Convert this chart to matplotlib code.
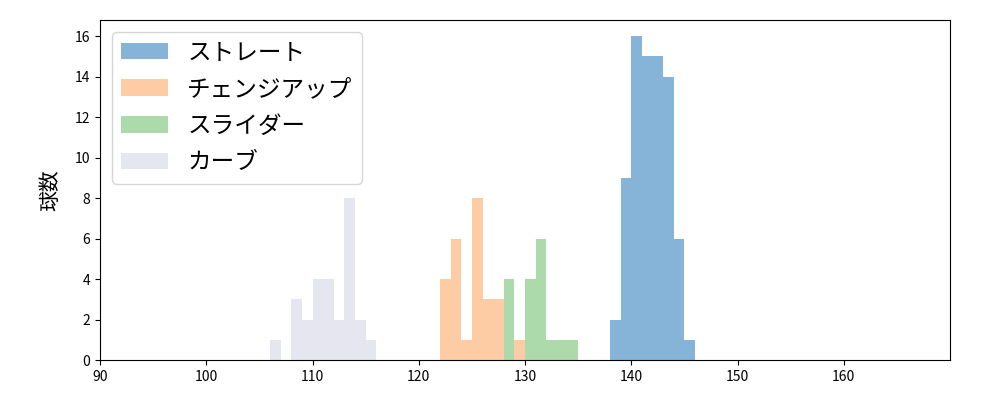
import matplotlib
matplotlib.use("Agg")
import matplotlib.pyplot as plt
import numpy as np

plt.rcParams['font.family'] = ['Noto Sans CJK JP', 'DejaVu Sans']

labels = ["ストレート", "チェンジアップ", "スライダー", "カーブ"]
colors = ["#86b4d8", "#fdcca5", "#acdaab", "#e6e6f0"]

straight_bins = [138, 139, 140, 141, 142, 143, 144, 145]
straight_counts = [2, 9, 16, 15, 15, 14, 6, 1]

changeup_bins = [122, 123, 124, 125, 126, 127, 129]
changeup_counts = [4, 6, 1, 8, 3, 3, 1]

slider_bins = [128, 130, 131, 132, 133, 134]
slider_counts = [4, 4, 6, 1, 1, 1]

curve_bins = [106, 108, 109, 110, 111, 112, 113, 114, 115]
curve_counts = [1, 3, 2, 4, 4, 2, 8, 2, 1]

series = [(straight_bins, straight_counts), (changeup_bins, changeup_counts),
          (slider_bins, slider_counts), (curve_bins, curve_counts)]

fig = plt.figure(figsize=(10, 4), dpi=100)
ax = fig.add_axes([0.1, 0.1, 0.85, 0.85])

for (b, c), lab, col in zip(series, labels, colors):
    edges = np.arange(min(b), max(b) + 2)
    ax.hist(b, bins=edges, weights=c, color=col, label=lab)

ax.set_xlim(90, 170)
ax.set_ylim(0, 16.8)
ax.set_xticks(np.arange(90, 170, 10))
ax.set_yticks(np.arange(0, 17, 2))
ax.tick_params(labelsize=10)
ax.set_ylabel("球数", fontsize=15, labelpad=10)
ax.legend(loc="upper left", fontsize=17, labelspacing=0.58)

fig.savefig("out.png", dpi=100)
